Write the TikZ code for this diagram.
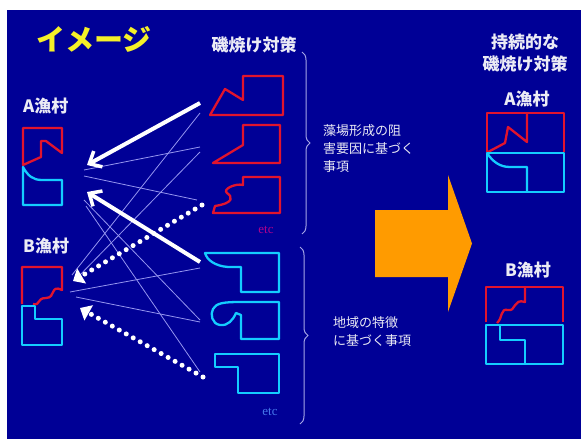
\documentclass[tikz,border=0pt]{standalone}
\usepackage{fontspec}
\setmainfont{Liberation Serif}
\newfontfamily\jp{Noto Sans CJK JP}
\usetikzlibrary{arrows.meta,decorations.pathreplacing}
\definecolor{bg}{RGB}{0,0,150}
\definecolor{ttl}{RGB}{245,240,40}
\definecolor{txt}{RGB}{235,235,245}
\definecolor{rd}{RGB}{225,20,45}
\definecolor{cy}{RGB}{20,205,255}
\definecolor{brc}{RGB}{165,165,230}
\definecolor{thin}{RGB}{150,150,240}
\definecolor{orng}{RGB}{255,155,0}
\definecolor{etcr}{RGB}{175,0,140}
\definecolor{etcb}{RGB}{70,120,235}
\tikzset{
  lbl/.style={text=txt,font=\jp\bfseries\fontsize{17}{20}\selectfont,inner sep=0pt},
  small/.style={text=txt,font=\jp\fontsize{13}{18}\selectfont,inner sep=0pt,align=left},
  redshape/.style={draw=rd,line width=2.3pt,line join=round},
  cyshape/.style={draw=cy,line width=2.3pt,line join=round},
  thinline/.style={draw=thin,line width=0.8pt},
  bigarrow/.style={draw=white,line width=4pt,-{Straight Barb[length=10pt,width=18pt,line width=3.5pt]}},
  dotarrow/.style={draw=white,line width=5pt,line cap=round,dash pattern=on 0pt off 8pt,-{Triangle[length=10pt,width=17pt]}},
  bracestyle/.style={draw=brc,line width=1pt,decorate,decoration={brace,amplitude=8pt}},
  etcstyle/.style={font=\fontsize{13}{14}\selectfont,inner sep=0pt}
}
\begin{document}
\begin{tikzpicture}[x=1pt,y=-1pt]
\useasboundingbox (0,0) rectangle (581,439);
\fill[white] (0,0) rectangle (581,439);
\fill[bg] (7,10) rectangle (581,439);

% title
\node[text=ttl,font=\jp\bfseries\fontsize{29}{32}\selectfont,inner sep=0pt] (title) at (94,39) {イメージ};

% labels
\node[lbl,anchor=west] (labA) at (23,106) {A漁村};
\node[lbl,anchor=west] (labB) at (23,246) {B漁村};
\node[lbl] (labM) at (254,45) {磯焼け対策};
\node[lbl,align=center,font=\jp\bfseries\fontsize{17}{22}\selectfont] (labS) at (525,53) {持続的な\\磯焼け対策};
\node[lbl] (labA2) at (527,99) {A漁村};
\node[lbl] (labB2) at (528,270) {B漁村};
\node[small,anchor=north west] (txt1) at (323,124) {藻場形成の阻\\害要因に基づく\\事項};
\node[small,anchor=north west] (txt2) at (333,316) {地域の特徴\\に基づく事項};
\node[etcstyle,text=etcr] (etc1) at (266,230) {etc};
\node[etcstyle,text=etcb] (etc2) at (270,412) {etc};

% braces
\coordinate (b1t) at (302,52);
\coordinate (b1b) at (302,234);
\coordinate (b2t) at (300,247);
\coordinate (b2b) at (300,424);
\draw[bracestyle] (b1t) -- (b1b);
\draw[bracestyle] (b2t) -- (b2b);

% left village A
\draw[redshape] (23,165) -- (23,128) -- (62,128) -- (62,153) -- (46,141) -- (41,141) -- (41,157) -- cycle;
\draw[cyshape] (23,167) .. controls (28,176) and (33,180) .. (42,180) -- (62,180) -- (62,205) -- (23,205) -- cycle;
% left village B
\draw[redshape] (22,304) -- (22,267) -- (62,267) -- (62,290)
  .. controls (50,284) and (56,298) .. (46,298)
  .. controls (36,298) and (41,306) .. (33,304);
\draw[cyshape] (22,306) -- (35,306) -- (35,319) -- (62,319) -- (62,345) -- (22,345) -- cycle;

% red measures
\draw[redshape] (243,76) -- (283,76) -- (283,115) -- (210,115) -- (225,89) -- (243,100) -- cycle;
\draw[redshape] (243,125) -- (280,125) -- (280,163) -- (213,163) -- (243,145) -- cycle;
\draw[redshape] (243,177) -- (280,177) -- (280,213) -- (213,213) -- (215,206)
  .. controls (234,203) and (233,197) .. (227,193)
  .. controls (222,189) and (236,183) .. (243,185) -- cycle;
% cyan measures
\draw[cyshape] (205,253) -- (279,253) -- (279,292) -- (241,292) -- (241,267) -- (228,267) .. controls (215,266) and (207,260) .. cycle;
\draw[cyshape] (240,302) -- (279,302) -- (279,339) -- (241,339) -- (241,315) -- (236,313)
  .. controls (233,320) and (228,326) .. (220,325)
  .. controls (212,324) and (210,314) .. (213,309)
  .. controls (216,303) and (224,302) .. cycle;
\draw[cyshape] (215,354) -- (279,354) -- (279,393) -- (238,393) -- (238,367) -- (215,367) -- cycle;

% connection points
\coordinate (r1a) at (200,103); \coordinate (r1b) at (200,113);
\coordinate (r2a) at (200,147); \coordinate (r2b) at (200,152);
\coordinate (r3a) at (197,200); \coordinate (r3b) at (202,205);
\coordinate (c1a) at (200,262); \coordinate (c1b) at (200,268);
\coordinate (c2a) at (200,320); \coordinate (c2b) at (200,322);
\coordinate (c3a) at (203,377); \coordinate (c3b) at (200,372);
\coordinate (A1) at (87,165); \coordinate (A2) at (87,192);
\coordinate (Ar2) at (84,170); \coordinate (Ar3) at (84,176);
\coordinate (Ac2) at (84,200); \coordinate (Ac3) at (86,206);
\coordinate (B1) at (73,281); \coordinate (B2) at (80,308);
\coordinate (Br1) at (72,275); \coordinate (Br2) at (76,279);
\coordinate (Bc1) at (70,292); \coordinate (Bc2) at (76,297);

% thin lines
\draw[thinline] (r1b) -- (Br1);
\draw[thinline] (r2a) -- (Ar2);
\draw[thinline] (r2b) -- (Br2);
\draw[thinline] (r3a) -- (Ar3);
\draw[thinline] (c1b) -- (Bc1);
\draw[thinline] (c2a) -- (Ac2);
\draw[thinline] (c2b) -- (Bc2);
\draw[thinline] (c3b) -- (Ac3);

% thick arrows
\draw[bigarrow] (r1a) -- (A1);
\draw[bigarrow] (c1a) -- (A2);
\draw[dotarrow] (r3b) -- (B1);
\draw[dotarrow] (c3a) -- (B2);

% orange arrow
\fill[orng] (375,210) -- (448,210) -- (448,175) -- (472,243.5) -- (448,312) -- (448,277) -- (375,277) -- cycle;

% right A
\draw[redshape] (487,152) -- (487,113) -- (564,113) -- (564,152);
\draw[redshape] (527,113) -- (527,142) -- (508,127) -- (505,143) -- (488,152);
\draw[cyshape] (487,153) rectangle (564,192);
\draw[cyshape] (487,153) .. controls (493,162) and (500,167) .. (510,167) -- (527,167) -- (527,192);
% right B
\draw[redshape] (486,322) -- (486,287) -- (563,287) -- (563,322);
\draw[redshape] (525,287) -- (525,302)
  .. controls (513,298) and (516,312) .. (508,310)
  .. controls (500,308) and (503,318) .. (497,323);
\draw[cyshape] (486,325) rectangle (563,364);
\draw[cyshape] (500,326) -- (500,340) -- (525,340) -- (525,364);
\end{tikzpicture}
\end{document}
